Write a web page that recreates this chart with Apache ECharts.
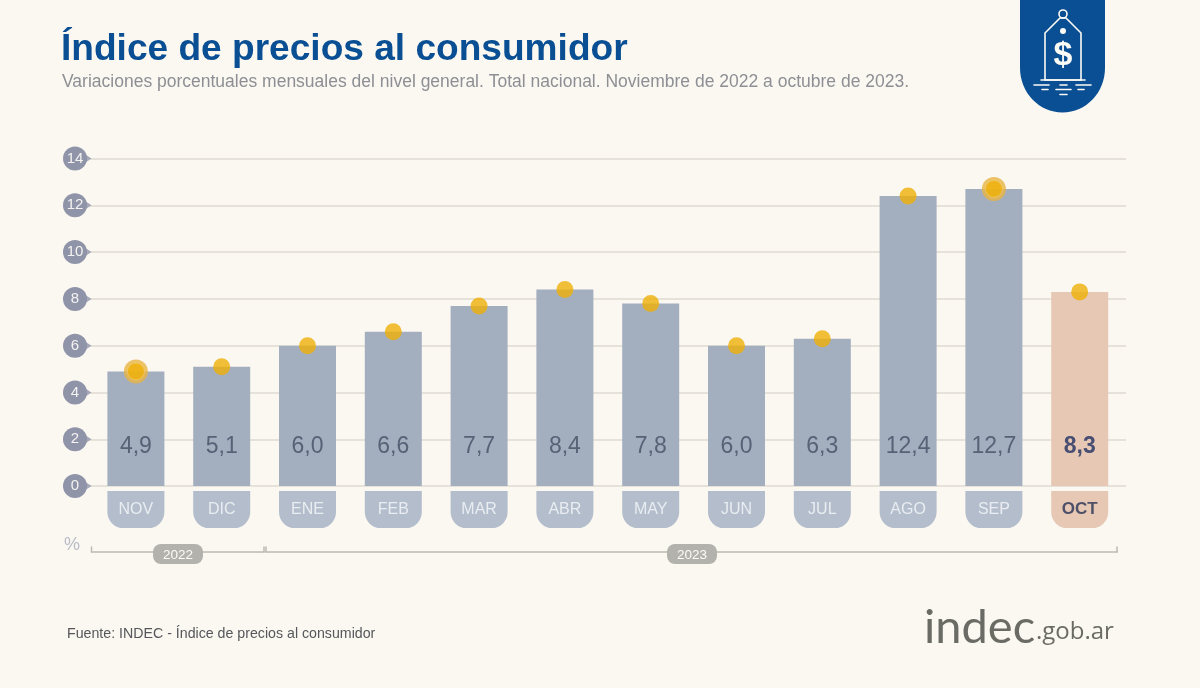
<!DOCTYPE html>
<html><head><meta charset="utf-8">
<style>html,body{margin:0;padding:0;background:#fbf8f2}#c{width:1200px;height:688px}</style>
<script src="https://cdn.jsdelivr.net/npm/echarts@6/dist/echarts.min.js"></script>
</head><body><div id="c"></div>
<script>
const months = ['NOV','DIC','ENE','FEB','MAR','ABR','MAY','JUN','JUL','AGO','SEP','OCT'];
const values = [4.9,5.1,6.0,6.6,7.7,8.4,7.8,6.0,6.3,12.4,12.7,8.3];
const ringed = ['NOV','SEP'];
const yTicks = [0,2,4,6,8,10,12,14];
const years = ['2022','2023'];
const titleText = 'Índice de precios al consumidor';
const subtitleText = 'Variaciones porcentuales mensuales del nivel general. Total nacional. Noviembre de 2022 a octubre de 2023.';
const sourceText = 'Fuente: INDEC - Índice de precios al consumidor';

const fam = '"Liberation Sans", Arial, sans-serif';
const comma = v => v.toFixed(1).replace('.', ',');
const last = months.length - 1;
const gridY = {top:158.5, height:327.6};
const white = '#fdfbf6';

function line(x1,y1,x2,y2,stroke,lw){return {type:'line',silent:true,z:5,shape:{x1,y1,x2,y2},style:{stroke,lineWidth:lw||1.5,lineCap:'round'}};}
function txt(x,y,text,font,fill,align,extra){return {type:'text',silent:true,z:6,x,y,style:Object.assign({text,font,fill,align:align||'left',verticalAlign:'middle'},extra||{})};}

const bracket = '#bdbab0';
const graphics = [
  // year brackets
  line(91.5,552,264,552,bracket), line(91.5,547,91.5,552,bracket), line(264,547,264,552,bracket),
  line(266,552,1117,552,bracket), line(266,547,266,552,bracket), line(1117,547,1117,552,bracket),
  {type:'rect',silent:true,z:6,shape:{x:153,y:544,width:50,height:20,r:8},style:{fill:'#b3b2ac'}},
  txt(178,555,years[0],'13.5px '+fam,white,'center'),
  {type:'rect',silent:true,z:6,shape:{x:667,y:544,width:50,height:20,r:8},style:{fill:'#b3b2ac'}},
  txt(692,555,years[1],'13.5px '+fam,white,'center'),
  txt(64,545,'%','18px '+fam,'#b9bcc6'),
  txt(67,634,sourceText,'14.2px '+fam,'#55575a'),
  // shield
  {type:'rect',silent:true,z:5,shape:{x:1020,y:0,width:85,height:68},style:{fill:'#0a4f93'}},
  {type:'ellipse',silent:true,z:5,shape:{cx:1062.5,cy:68,rx:42.5,ry:44.5},style:{fill:'#0a4f93'}},
  {type:'polygon',silent:true,z:6,shape:{points:[[1060,18],[1066,18],[1081,33],[1081,80],[1045,80],[1045,33]]},style:{fill:'none',stroke:white,lineWidth:1.6}},
  {type:'circle',silent:true,z:6,shape:{cx:1063,cy:14,r:4},style:{fill:'none',stroke:white,lineWidth:1.6}},
  {type:'circle',silent:true,z:6,shape:{cx:1063,cy:31,r:3},style:{fill:white}},
  txt(1063,56,'$','bold 34px '+fam,white,'center'),
  line(1041,80,1085,80,white,1.6),
  line(1034,85,1049,85,white,1.6), line(1060,85,1067,85,white,1.6), line(1076,85,1091,85,white,1.6),
  line(1042,89.5,1048,89.5,white,1.6), line(1056,89.5,1071,89.5,white,1.6), line(1078,89.5,1084,89.5,white,1.6),
  line(1060,94.5,1067,94.5,white,1.6),
  // site logo
  txt(924,628,'indec','47px Lato, "Open Sans", sans-serif','#6b6b66'),
  txt(1036,632,'.gob.ar','24px "Open Sans", sans-serif','#6b6b66')
];

const option = {
  backgroundColor:'#fbf8f2',
  animation:false,
  title:[
    {text:titleText,left:61,top:31,padding:0,textStyle:{fontFamily:fam,fontWeight:'bold',fontSize:37.1,color:'#0a4f93'}},
    {text:subtitleText,left:62,top:73,padding:0,textStyle:{fontFamily:fam,fontWeight:'normal',fontSize:17.5,color:'#8d8f94'}}
  ],
  grid:[
    Object.assign({left:90,width:1036},gridY),
    Object.assign({left:93,width:1029.6},gridY)
  ],
  xAxis:[
    {type:'value',gridIndex:0,min:0,max:1,show:false},
    {type:'category',gridIndex:1,data:months,axisLine:{show:false},axisTick:{show:false},
     axisLabel:{interval:0,margin:5,
       formatter:(v,i)=> (i===last?'{hi|':'{m|')+v+'}',
       rich:{
         m:{width:57,height:37,lineHeight:37,align:'center',backgroundColor:'#b3bdcc',borderRadius:[0,0,16,16],color:'#e9edf1',fontFamily:fam,fontSize:16},
         hi:{width:57,height:37,lineHeight:37,align:'center',backgroundColor:'#e6c8b4',borderRadius:[0,0,16,16],color:'#4d5068',fontFamily:fam,fontSize:17,fontWeight:'bold'}
       }}}
  ],
  yAxis:[
    {type:'value',gridIndex:0,position:'left',min:0,max:14,interval:2,axisLine:{show:false},axisTick:{show:false},axisLabel:{show:false},
     splitLine:{lineStyle:{color:'#e6e2d9',width:2}}},
    {type:'value',gridIndex:1,min:0,max:14,interval:2,show:false},
    {type:'value',gridIndex:0,position:'left',offset:0,min:0,max:14,interval:2,z:10,axisLine:{show:false},axisTick:{show:false},splitLine:{show:false},
     axisLabel:{margin:15,align:'center',verticalAlign:'middle',width:24,height:24,lineHeight:24,borderRadius:12,backgroundColor:'#8f94a8',color:'#f4f3f1',fontFamily:fam,fontSize:15}}
  ],
  series:[
    {name:'marcas',type:'scatter',xAxisIndex:0,yAxisIndex:0,clip:false,silent:true,z:3,
     symbol:'triangle',symbolSize:[17,13],symbolRotate:-90,symbolOffset:[-5,0],itemStyle:{color:'#8f94a8'},
     data:yTicks.map(t=>[0,t])},
    {name:'variacion',type:'bar',xAxisIndex:1,yAxisIndex:1,barWidth:57,z:4,silent:true,
     data:values.map((v,i)=>({value:v,
        itemStyle:{color:i===last?'#e6c8b4':'#a3aebf'},
        label:i===last?{fontWeight:'bold',color:'#474e72'}:{}})),
     label:{show:true,position:'insideBottom',distance:28,fontFamily:fam,fontSize:23,color:'#586277',formatter:p=>comma(p.value)}},
    {name:'anillo',type:'scatter',xAxisIndex:1,yAxisIndex:1,symbolSize:24,z:5,silent:true,clip:false,
     itemStyle:{color:'#e9b443'},
     data:months.map((m,i)=>ringed.includes(m)?values[i]:null)},
    {name:'puntos',type:'scatter',xAxisIndex:1,yAxisIndex:1,symbolSize:17,z:6,silent:true,clip:false,
     itemStyle:{color:'#efb007'},
     data:values.map((v,i)=>({value:v,itemStyle:ringed.includes(months[i])?{borderColor:'#f3cb6a',borderWidth:1}:{}}))}
  ],
  graphic:graphics
};
const chart = echarts.init(document.getElementById('c'),null,{renderer:'canvas'});
chart.setOption(option);
</script></body></html>
